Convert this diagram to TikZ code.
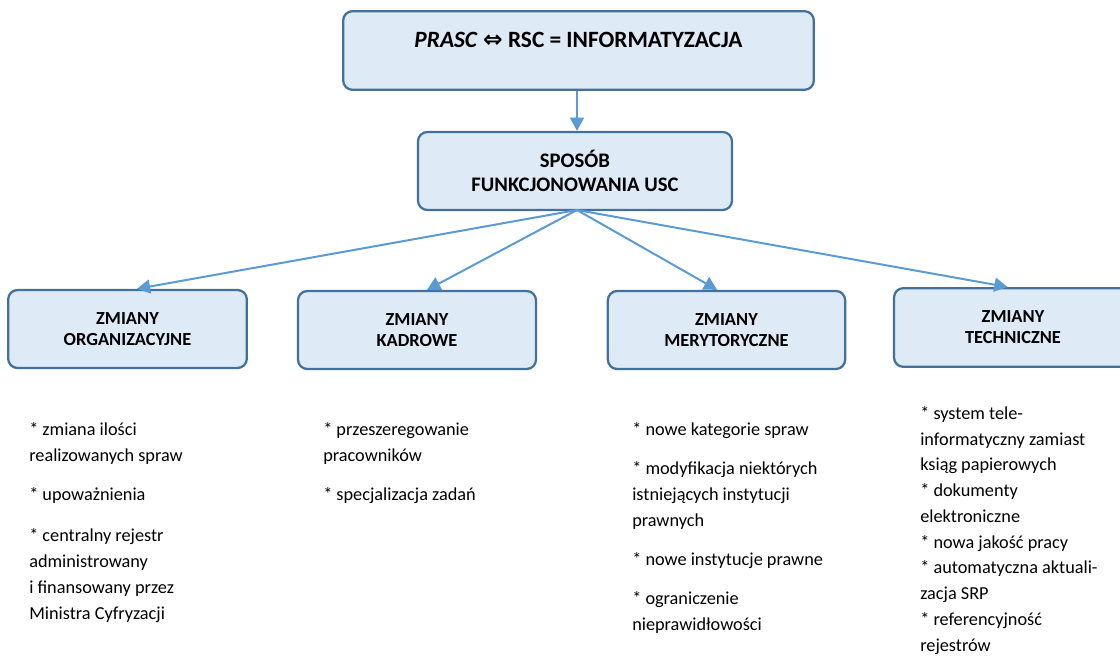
\documentclass[tikz,border=0pt]{standalone}
\usepackage{fontspec}
\setmainfont{Carlito}
\newfontfamily\symfont{DejaVu Sans}
\usetikzlibrary{arrows.meta,positioning}

\definecolor{boxfill}{HTML}{DEEAF6}
\definecolor{boxline}{HTML}{41719C}
\definecolor{arrowline}{HTML}{5B9BD5}

\tikzset{
	box/.style={draw=boxline, fill=boxfill, line width=1.7pt, rounded corners=7pt,
		align=center, font=\bfseries},
	link/.style={draw=arrowline, line width=1.5pt, -{Triangle[length=10pt,width=10.5pt]}},
	bullets/.style={align=left, inner sep=0pt, anchor=base west,
		font=\fontsize{13.7}{19.5}\selectfont}
}

\begin{document}
\begin{tikzpicture}[x=0.75pt, y=-0.75pt]
	\clip (0,0) rectangle (1120,656);

	\node[box, minimum width=353pt, minimum height=59pt, text height=12pt, text depth=16.6pt,
		font=\fontsize{17.5}{21}\bfseries] (top) at (578.5,50.5)
		{\textit{PRASC} {\symfont\bfseries ⇔} RSC = INFORMATYZACJA};

	\node[box, minimum width=235.5pt, minimum height=58.5pt,
		font=\fontsize{15.5}{18.2}\bfseries] (mid) at (575,171)
		{SPOSÓB\\FUNKCJONOWANIA USC};

	\node[box, minimum width=179pt, minimum height=58.5pt,
		font=\fontsize{13.8}{15.75}\bfseries] (org) at (127.5,329)
		{ZMIANY\\ORGANIZACYJNE};

	\node[box, minimum width=178.5pt, minimum height=58.5pt,
		font=\fontsize{13.8}{15.75}\bfseries] (kadr) at (417,330)
		{ZMIANY\\KADROWE};

	\node[box, minimum width=178pt, minimum height=58.5pt,
		font=\fontsize{13.8}{15.75}\bfseries] (mer) at (726.5,330)
		{ZMIANY\\MERYTORYCZNE};

	\node[box, minimum width=178.5pt, minimum height=59pt,
		font=\fontsize{13.8}{15.75}\bfseries] (tech) at (1013,327.5)
		{ZMIANY\\TECHNICZNE};

	\draw[link] (top.south -| 577,0) -- (mid.north -| 577,0);

	\coordinate (fork) at (577,210);
	\draw[link] (fork) -- ([xshift=7pt]org.north);
	\draw[link] (fork) -- ([xshift=7.5pt]kadr.north);
	\draw[link] (fork) -- ([xshift=-7pt]mer.north);
	\draw[link] (fork) -- ([xshift=-4pt]tech.north);

	\node[bullets] (orglist) at (29,619)
		{* zmiana ilości\\realizowanych spraw\\[9.75pt]
		* upoważnienia\\[11pt]
		* centralny rejestr\\administrowany\\i finansowany przez\\Ministra Cyfryzacji};

	\node[bullets] (kadrlist) at (323,500)
		{* przeszeregowanie\\pracowników\\[9.75pt]
		* specjalizacja zadań};

	\node[bullets] (merlist) at (632,630)
		{* nowe kategorie spraw\\[9.75pt]
		* modyfikacja niektórych\\istniejących instytucji\\prawnych\\[9.75pt]
		* nowe instytucje prawne\\[9.75pt]
		* ograniczenie\\nieprawidłowości};

	\node[bullets, font=\fontsize{13.7}{19.3}\selectfont] (techlist) at (920,651)
		{* system tele-\\informatyczny zamiast\\ksiąg papierowych\\
		* dokumenty\\elektroniczne\\
		* nowa jakość pracy\\
		* automatyczna aktuali-\\zacja SRP\\
		* referencyjność\\rejestrów};
\end{tikzpicture}
\end{document}
